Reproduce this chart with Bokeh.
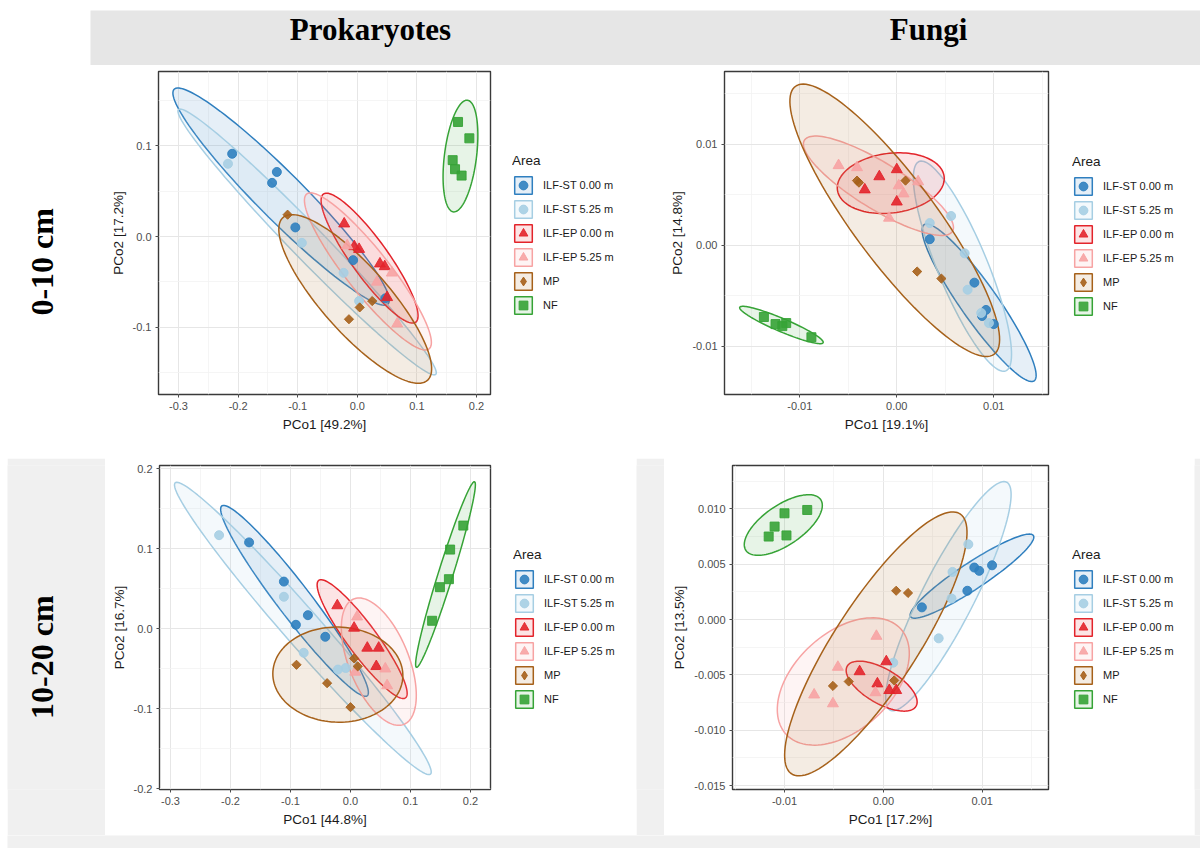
import numpy as np
from bokeh.plotting import figure
from bokeh.layouts import row, column
from bokeh.models import (FixedTicker, PrintfTickFormatter, Legend, LegendItem, Range1d)
from bokeh.core.properties import value
from bokeh.embed import file_html
from bokeh.resources import INLINE

# ---------------- data ----------------
groups = ["ILF-ST 0.00 m", "ILF-ST 5.25 m", "ILF-EP 0.00 m", "ILF-EP 5.25 m", "MP", "NF"]
colors = ["#2f7fbf", "#a6cee3", "#e3242b", "#f7a3a3", "#a6611a", "#36a336"]
markers = ["circle", "circle", "triangle", "triangle", "square", "square"]
marker_angles = [0, 0, 0, 0, np.pi / 4, 0]
legend_markers = ["circle", "circle", "triangle", "triangle", "diamond", "square"]
col_titles = ["Prokaryotes", "Fungi"]
row_titles = ["0-10 cm", "10-20 cm"]

# Prokaryotes 0-10 cm
pro1_x = [[-0.210, -0.135, -0.143, -0.104, -0.007, 0.047],
          [-0.217, -0.093, -0.023, 0.003],
          [-0.022, -0.005, 0.003, 0.038, 0.046, 0.050],
          [-0.017, 0.033, 0.058, 0.067],
          [-0.117, 0.025, 0.004, -0.014],
          [0.169, 0.188, 0.160, 0.164, 0.175]]
pro1_y = [[0.091, 0.071, 0.059, 0.010, -0.026, -0.068],
          [0.080, -0.007, -0.040, -0.071],
          [0.014, -0.011, -0.014, -0.030, -0.033, -0.067],
          [-0.010, -0.050, -0.040, -0.096],
          [0.024, -0.071, -0.078, -0.091],
          [0.126, 0.108, 0.084, 0.074, 0.067]]
# ellipse: centre x, centre y, major tip x, y, minor tip x, y
pro1_ell = [[-0.1279, 0.0439, 0.0515, -0.0742, -0.1000, 0.0619],
            [-0.0842, -0.0060, 0.1316, -0.1517, -0.0640, 0.0067],
            [0.0206, -0.0238, 0.0980, -0.0943, 0.0457, -0.0121],
            [0.0178, -0.0384, 0.1204, -0.1236, 0.0464, -0.0238],
            [-0.0035, -0.0687, 0.1176, -0.1583, 0.0386, -0.0446],
            [0.1731, 0.0885, 0.1849, 0.1499, 0.1998, 0.0863]]

# Fungi 0-10 cm
fun1_x = [[0.0034, 0.0080, 0.0088, 0.0092, 0.0100],
          [0.0056, 0.0034, 0.0070, 0.0073, 0.0087, 0.0095],
          [-0.0018, 0.0000, -0.0033, 0.0000],
          [-0.0060, -0.0041, 0.0002, 0.0007, -0.0008, 0.0022],
          [-0.0041, -0.0039, 0.0009, 0.0021, 0.0046],
          [-0.0137, -0.0125, -0.0114, -0.0118, -0.0088]]
fun1_y = [[0.0006, -0.0037, -0.0070, -0.0064, -0.0078],
          [0.0029, 0.0022, -0.0008, -0.0044, -0.0067, -0.0077],
          [0.0068, 0.0075, 0.0055, 0.0043],
          [0.0079, 0.0077, 0.0059, 0.0051, 0.0027, 0.0063],
          [0.0064, 0.0062, 0.0064, -0.0026, -0.0033],
          [-0.0071, -0.0078, -0.0077, -0.0080, -0.0091]]
fun1_ell = [[0.00849, -0.00569, 0.01416, -0.01342, 0.01003, -0.00464],
            [0.00677, -0.00207, 0.01124, -0.01243, 0.00914, -0.00112],
            [-0.00062, 0.00615, 0.00488, 0.00681, -0.00024, 0.00322],
            [-0.00189, 0.00589, 0.00574, 0.00138, -0.00062, 0.00785],
            [-0.00021, 0.00247, 0.01003, -0.01079, 0.00325, 0.00490],
            [-0.01189, -0.00789, -0.00759, -0.00964, -0.01163, -0.00729]]

# Prokaryotes 10-20 cm
pro2_x = [[-0.169, -0.111, -0.071, -0.091, -0.042],
          [-0.219, -0.111, -0.078, -0.008, -0.021],
          [-0.022, 0.006, 0.028, 0.047, 0.043],
          [0.011, 0.008, 0.058, 0.061],
          [-0.090, -0.039, 0.000, 0.006, 0.012],
          [0.136, 0.149, 0.164, 0.166, 0.188]]
pro2_y = [[0.108, 0.059, 0.017, 0.005, -0.010],
          [0.117, 0.040, -0.030, -0.049, -0.051],
          [0.029, 0.001, -0.024, -0.024, -0.047],
          [0.015, -0.054, -0.050, -0.071],
          [-0.045, -0.068, -0.098, -0.037, -0.047],
          [0.010, 0.052, 0.062, 0.099, 0.129]]
pro2_ell = [[-0.0933, 0.0349, 0.0278, -0.0838, -0.0712, 0.0474],
            [-0.0794, 0.0004, 0.1333, -0.1817, -0.0564, 0.0154],
            [0.0194, -0.0129, 0.0917, -0.0863, 0.0394, -0.0017],
            [0.0472, -0.0411, 0.0889, -0.1195, 0.0937, -0.0273],
            [-0.0211, -0.0573, 0.0872, -0.0602, -0.0178, 0.0021],
            [0.1583, 0.0678, 0.2067, 0.1838, 0.1700, 0.0651]]

# Fungi 10-20 cm
fun2_x = [[0.0039, 0.0085, 0.0092, 0.0097, 0.0110],
          [0.0086, 0.0070, 0.0069, 0.0056, 0.0010],
          [-0.0024, 0.0003, -0.0006, 0.0006, 0.0013],
          [-0.0007, -0.0046, -0.0070, -0.0051, -0.0008],
          [0.0013, 0.0025, -0.0051, -0.0035, 0.0011],
          [-0.0077, -0.0100, -0.0110, -0.0116, -0.0098]]
fun2_y = [[0.0011, 0.0026, 0.0047, 0.0044, 0.0049],
          [0.0068, 0.0043, 0.0019, -0.0017, -0.0039],
          [-0.0047, -0.0038, -0.0058, -0.0064, -0.0064],
          [-0.0015, -0.0043, -0.0068, -0.0076, -0.0066],
          [0.0026, 0.0024, -0.0060, -0.0056, -0.0055],
          [0.0099, 0.0096, 0.0084, 0.0075, 0.0076]]
fun2_ell = [[0.00897, 0.00392, 0.01518, 0.00759, 0.00823, 0.00491],
            [0.00658, 0.00211, 0.01248, 0.01241, 0.00892, 0.00104],
            [-0.00017, -0.00602, 0.00331, -0.00783, 0.00071, -0.00467],
            [-0.00405, -0.00560, 0.00175, -0.00084, -0.00074, -0.00883],
            [-0.00076, -0.00220, 0.00776, 0.00955, 0.00278, -0.00425],
            [-0.01012, 0.00854, -0.00634, 0.01084, -0.01126, 0.01003]]

x_labels = ["PCo1 [49.2%]", "PCo1 [19.1%]", "PCo1 [44.8%]", "PCo1 [17.2%]"]
y_labels = ["PCo2 [17.2%]", "PCo2 [14.8%]", "PCo2 [16.7%]", "PCo2 [13.5%]"]

SANS = "Liberation Sans"
SERIF = "Liberation Serif"
marker_sizes = [9, 9, 11, 11, 6.5, 9]
legend_sizes = [8, 8, 10, 10, 9, 8]
FILL_ALPHA = 0.12


def ellipse_outline(e, n=120):
    cx, cy, ax, ay, bx, by = e
    t = np.linspace(0, 2 * np.pi, n)
    xs = cx + (ax - cx) * np.cos(t) + (bx - cx) * np.sin(t)
    ys = cy + (ay - cy) * np.cos(t) + (by - cy) * np.sin(t)
    return xs, ys


def deco(width, height, bg, xr=None, yr=None):
    p = figure(width=width, height=height,
               x_range=xr if xr is not None else Range1d(0, width),
               y_range=yr if yr is not None else Range1d(height, 0),
               output_backend="svg", toolbar_location=None, min_border=0,
               x_axis_type=None, y_axis_type=None,
               background_fill_color=bg, border_fill_color=bg)
    p.outline_line_color = None
    p.grid.visible = False
    return p


def panel(width, height, borders, xr, yr, xt, xminor, yt, yminor, xfmt, yfmt,
          xlabel, ylabel, xs, ys, ells):
    bl, br, bt, bb = borders
    p = figure(width=width, height=height, x_range=Range1d(*xr), y_range=Range1d(*yr),
               output_backend="svg", toolbar_location=None,
               min_border_left=bl, min_border_right=br, min_border_top=bt, min_border_bottom=bb,
               background_fill_color="white", border_fill_color="white")
    p.outline_line_color = "#3a3a3a"
    p.outline_line_width = 1.4
    p.xaxis.ticker = FixedTicker(ticks=xt, minor_ticks=xminor)
    p.yaxis.ticker = FixedTicker(ticks=yt, minor_ticks=yminor)
    p.xgrid.ticker = p.xaxis.ticker
    p.ygrid.ticker = p.yaxis.ticker
    p.xaxis.formatter = PrintfTickFormatter(format=xfmt)
    p.yaxis.formatter = PrintfTickFormatter(format=yfmt)
    for ax in (p.xaxis, p.yaxis):
        ax.axis_line_color = None
        ax.major_tick_out = 3
        ax.major_tick_in = 0
        ax.major_tick_line_color = "#4d4d4d"
        ax.minor_tick_line_color = None
        ax.major_label_text_font = SANS
        ax.major_label_text_font_size = "11px"
        ax.major_label_text_color = "#4d4d4d"
        ax.major_label_standoff = 3
        ax.axis_label_text_font = SANS
        ax.axis_label_text_font_size = "13.5px"
        ax.axis_label_text_font_style = "normal"
        ax.axis_label_text_color = "#1a1a1a"
        ax.axis_label_standoff = 4
    p.xaxis.axis_label = xlabel
    p.yaxis.axis_label = ylabel
    for g in (p.xgrid, p.ygrid):
        g.grid_line_color = "#e6e6e6"
        g.grid_line_width = 1
        g.minor_grid_line_color = "#f2f2f2"
        g.minor_grid_line_width = 0.8

    for i in range(len(groups)):
        ex, ey = ellipse_outline(ells[i])
        p.patch(ex, ey, fill_color=colors[i], fill_alpha=FILL_ALPHA,
                line_color=colors[i], line_width=1.5)
    for i in range(len(groups)):
        p.scatter(xs[i], ys[i], marker=markers[i], size=marker_sizes[i],
                  angle=marker_angles[i],
                  fill_color=colors[i], line_color=colors[i],
                  fill_alpha=0.9, line_alpha=0.9)
    return p


def legend_fig(width, height, xs, ys, ells):
    # a separate canvas holding only the legend; its ranges keep the
    # (real) data glyphs that feed the legend keys out of view
    p = deco(width, height, "white", xr=Range1d(10, 11), yr=Range1d(10, 11))
    items = []
    for i in range(len(groups)):
        ex, ey = ellipse_outline(ells[i])
        rp = p.patch(ex, ey, fill_color=colors[i], fill_alpha=FILL_ALPHA,
                     line_color=colors[i], line_width=1.5)
        rs = p.scatter(xs[i], ys[i], marker=legend_markers[i], size=legend_sizes[i],
                       fill_color=colors[i], line_color=colors[i],
                       fill_alpha=0.9, line_alpha=0.9)
        items.append(LegendItem(label=groups[i], renderers=[rp, rs]))
    leg = Legend(items=items, location="top_left", title="Area")
    leg.title_text_font = SANS
    leg.title_text_font_size = "13.5px"
    leg.title_text_font_style = "normal"
    leg.title_text_color = "#1a1a1a"
    leg.title_standoff = 6
    leg.label_text_font = SANS
    leg.label_text_font_size = "11px"
    leg.label_text_color = "#1a1a1a"
    leg.glyph_width = 22
    leg.glyph_height = 22
    leg.label_height = 22
    leg.spacing = 2
    leg.label_standoff = 9
    leg.padding = 0
    leg.margin = 0
    leg.border_line_color = None
    leg.background_fill_alpha = 0
    p.add_layout(leg)
    return p


def legend_block(width, height, dx, dy, xs, ys, ells):
    return row(deco(dx, height, "white"),
               column(deco(width - dx, dy, "white"),
                      legend_fig(width - dx, height - dy, xs, ys, ells)))


GREY_HEAD = "#e6e6e6"
GREY_BG = "#f0f0f0"

# header: white margin, grey band with column titles
head_band = deco(1110, 55, GREY_HEAD)
head_band.text(x=[280, 838], y=[19, 19], text=col_titles, text_font=value(SERIF),
               text_font_style="bold", text_font_size="31px", text_align="center",
               text_baseline="middle", text_color="black")
header = row(deco(90, 66, "white"),
             column(deco(1110, 10, "white"), head_band, deco(1110, 1, "white")))

# top row
lab_top = deco(90, 392, "white")
lab_top.text(x=[41], y=[231], text=[row_titles[0]], angle=np.pi / 2, text_font=value(SERIF),
             text_font_style="bold", text_font_size="32px", text_align="center",
             text_baseline="middle", text_color="black")

tl = panel(410, 392, (68, 10, 4, 64), (-0.3336, 0.2235), (-0.1738, 0.1815),
           [-0.3, -0.2, -0.1, 0.0, 0.1, 0.2], [-0.25, -0.15, -0.05, 0.05, 0.15],
           [-0.1, 0.0, 0.1], [-0.15, -0.05, 0.05, 0.15], "%.1f", "%.1f",
           x_labels[0], y_labels[0], pro1_x, pro1_y, pro1_ell)
tl_leg = legend_block(160, 392, 12, 87, pro1_x, pro1_y, pro1_ell)
tr = panel(398, 392, (64, 10, 5, 63), (-0.01776, 0.01564), (-0.01477, 0.0172),
           [-0.01, 0.0, 0.01], [-0.015, -0.005, 0.005, 0.015],
           [-0.01, 0.0, 0.01], [-0.005, 0.005, 0.015], "%.2f", "%.2f",
           x_labels[1], y_labels[1], fun1_x, fun1_y, fun1_ell)
tr_leg = legend_block(142, 392, 14, 88, fun1_x, fun1_y, fun1_ell)

# bottom row
lab_bot = deco(98, 377, GREY_BG)
lab_bot.text(x=[34], y=[223], text=[row_titles[1]], angle=np.pi / 2, text_font=value(SERIF),
             text_font_style="bold", text_font_size="32px", text_align="center",
             text_baseline="middle", text_color="black")

bl = panel(395, 377, (54, 10, 7, 45), (-0.3183, 0.2333), (-0.2009, 0.2041),
           [-0.3, -0.2, -0.1, 0.0, 0.1, 0.2], [-0.25, -0.15, -0.05, 0.05, 0.15],
           [-0.2, -0.1, 0.0, 0.1, 0.2], [-0.15, -0.05, 0.05, 0.15], "%.1f", "%.1f",
           x_labels[2], y_labels[2], pro2_x, pro2_y, pro2_ell)
bl_leg = legend_block(136, 377, 13, 89, pro2_x, pro2_y, pro2_ell)
br = panel(394, 377, (68, 10, 7, 46), (-0.01526, 0.01671), (-0.01536, 0.01392),
           [-0.01, 0.0, 0.01], [-0.015, -0.005, 0.005, 0.015],
           [-0.015, -0.01, -0.005, 0.0, 0.005, 0.01],
           [-0.0125, -0.0075, -0.0025, 0.0025, 0.0075, 0.0125], "%.2f", "%.3f",
           x_labels[3], y_labels[3], fun2_x, fun2_y, fun2_ell)
br_leg = legend_block(136, 377, 14, 89, fun2_x, fun2_y, fun2_ell)

root = column(header,
              row(lab_top, tl, tl_leg, tr, tr_leg),
              row(deco(7, 377, "white"), lab_bot, bl, bl_leg, deco(28, 377, GREY_BG), br,
                  br_leg, deco(6, 377, GREY_BG)),
              row(deco(7, 13, "white"), deco(1193, 13, GREY_BG)))

open("out.html", "w").write(file_html(root, INLINE))
